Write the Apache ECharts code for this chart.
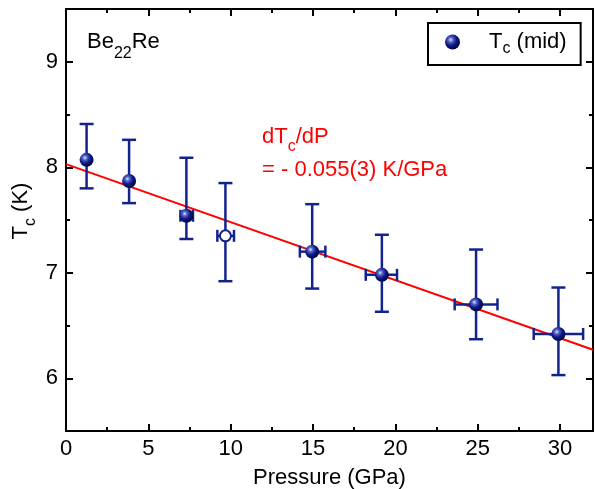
<!DOCTYPE html>
<html>
<head>
<meta charset="utf-8">
<script src="https://cdn.jsdelivr.net/npm/echarts@6/dist/echarts.min.js"></script>
<style>html,body{margin:0;padding:0;background:#fff}#c{width:595px;height:489px}</style>
</head>
<body>
<div id="c"></div>
<script>
// Data
var pressure = [1.25, 3.83, 7.31, 9.68, 14.95, 19.18, 24.9, 29.9];
var tcMid    = [8.07, 7.87, 7.54, 7.35, 7.20, 6.98, 6.70, 6.42];
var tcLow    = [7.80, 7.66, 7.32, 6.92, 6.85, 6.63, 6.37, 6.03];
var tcHigh   = [8.41, 8.26, 8.09, 7.85, 7.65, 7.36, 7.22, 6.86];
var pLow     = [1.25, 3.83, 6.95, 9.19, 14.2, 18.2, 23.6, 28.4];
var pHigh    = [1.25, 3.83, 7.71, 10.2, 15.75, 20.1, 26.2, 31.4];
var openPoint = [3];           // index of the open-symbol point
var fitX = [0, 32];
var fitY = [8.03, 6.27];
var xMajorTicks = [0, 5, 10, 15, 20, 25, 30];
var xMinorTicks = [2.5, 7.5, 12.5, 17.5, 22.5, 27.5];
var yMajorTicks = [6, 7, 8, 9];
var yMinorTicks = [6.5, 7.5, 8.5];

var NAVY = '#14238c';
var FONT = 'Liberation Sans, Arial, sans-serif';

var filled = [], open = [], err = [];
for (var i = 0; i < pressure.length; i++) {
  if (openPoint.indexOf(i) >= 0) open.push([pressure[i], tcMid[i]]);
  else filled.push([pressure[i], tcMid[i]]);
  err.push([pressure[i], tcMid[i], tcLow[i], tcHigh[i], pLow[i], pHigh[i]]);
}
var fit = fitX.map(function (x, k) { return [x, fitY[k]]; });

var sphere = {
  type: 'radial', x: 0.38, y: 0.35, r: 0.65,
  colorStops: [
    {offset: 0, color: '#dfe4ff'},
    {offset: 0.25, color: '#5563c4'},
    {offset: 0.6, color: '#0b1888'},
    {offset: 1, color: '#000640'}
  ]
};

function axisCommon(pos, ticks, len, showLine, labels) {
  return {
    type: 'value', position: pos, gridIndex: 0,
    splitLine: {show: false},
    axisLine: {show: showLine, onZero: false, lineStyle: {color: '#000', width: 2}},
    axisTick: {show: true, inside: true, length: len, customValues: ticks, lineStyle: {color: '#000', width: 2}},
    axisLabel: labels ? {show: true, customValues: ticks, color: '#000', fontSize: 22, fontFamily: FONT} : {show: false}
  };
}

var XMIN = 0, XMAX = 32;
var xa0 = axisCommon('bottom', xMajorTicks, 7, true, true);
xa0.min = XMIN; xa0.max = XMAX; xa0.axisLabel.margin = 7;
var xa1 = axisCommon('bottom', xMinorTicks, 4, false, false); xa1.min = XMIN; xa1.max = XMAX;
var xa2 = axisCommon('top', xMajorTicks, 7, true, false); xa2.min = XMIN; xa2.max = XMAX;
var xa3 = axisCommon('top', xMinorTicks, 4, false, false); xa3.min = XMIN; xa3.max = XMAX;

var YMIN = 5.5, YMAX = 9.5;
var ya0 = axisCommon('left', yMajorTicks, 7, true, true);
ya0.min = YMIN; ya0.max = YMAX; ya0.axisLabel.margin = 8;
var ya1 = axisCommon('left', yMinorTicks, 4, false, false); ya1.min = YMIN; ya1.max = YMAX;
var ya2 = axisCommon('right', yMajorTicks, 7, true, false); ya2.min = YMIN; ya2.max = YMAX;
var ya3 = axisCommon('right', yMinorTicks, 4, false, false); ya3.min = YMIN; ya3.max = YMAX;

function richStyle(col, subPad) {
  return {
    m: {fontSize: 22, fontFamily: FONT, fill: col},
    s: {fontSize: 16, fontFamily: FONT, fill: col, padding: [subPad, 0, 0, 0]}
  };
}

var chart = echarts.init(document.getElementById('c'), null, {renderer: 'canvas'});
chart.setOption({
  animation: false,
  backgroundColor: '#fff',
  grid: {left: 66, right: 2, top: 9, bottom: 58, containLabel: false, outerBoundsMode: 'none'},
  xAxis: [xa0, xa1, xa2, xa3],
  yAxis: [ya0, ya1, ya2, ya3],
  legend: {
    left: 428, top: 23,
    data: ['Tc (mid)'],
    icon: 'circle', itemWidth: 15, itemHeight: 15,
    borderColor: '#000', borderWidth: 2, borderRadius: 0,
    padding: [8, 14, 8, 17],
    formatter: function () { return '{m|T}{s|c}{m| (mid)}'; },
    textStyle: {color: '#000', fontFamily: FONT, padding: [0, 0, 0, 24], rich: {
      m: {fontSize: 22, fontFamily: FONT, color: '#000'},
      s: {fontSize: 16, fontFamily: FONT, color: '#000', padding: [14, 0, 0, 0]}
    }}
  },
  graphic: [
    {type: 'text', left: 87, top: 31, z: 10, style: {
      text: '{m|Be}{s|22}{m|Re}', fontFamily: FONT, rich: richStyle('#000', 24)
    }},
    {type: 'text', x: 21, y: 211, rotation: Math.PI / 2, z: 10, style: {
      text: '{m|T}{s|c}{m| (K)}', fontFamily: FONT, align: 'center', verticalAlign: 'middle',
      rich: richStyle('#000', 20)
    }},
    {type: 'text', x: 329.5, y: 478, z: 10, style: {
      text: 'Pressure (GPa)', fontSize: 22, fontFamily: FONT, fill: '#000',
      align: 'center', verticalAlign: 'middle'
    }},
    {type: 'text', left: 262, top: 126, z: 10, style: {
      text: '{m|dT}{s|c}{m|/dP}', fontFamily: FONT, rich: richStyle('#ff0000', 20)
    }},
    {type: 'text', left: 262, top: 159, z: 10, style: {
      text: '= - 0.055(3) K/GPa', fontSize: 22, fontFamily: FONT, fill: '#ff0000'
    }}
  ],
  series: [
    {
      type: 'line', data: fit, symbol: 'none', z: 2,
      lineStyle: {color: '#ff0000', width: 2}, silent: true
    },
    {
      type: 'custom', data: err, z: 3,
      renderItem: function (params, api) {
        var c = api.coord([api.value(0), api.value(1)]);
        var lo = api.coord([api.value(0), api.value(2)]);
        var hi = api.coord([api.value(0), api.value(3)]);
        var xl = api.coord([api.value(4), api.value(1)]);
        var xh = api.coord([api.value(5), api.value(1)]);
        var st = {stroke: NAVY, lineWidth: 2.5, fill: null};
        var cw = 7, ch = 6;
        var kids = [
          {type: 'line', shape: {x1: c[0], y1: lo[1], x2: c[0], y2: hi[1]}, style: st},
          {type: 'line', shape: {x1: c[0] - cw, y1: lo[1], x2: c[0] + cw, y2: lo[1]}, style: st},
          {type: 'line', shape: {x1: c[0] - cw, y1: hi[1], x2: c[0] + cw, y2: hi[1]}, style: st}
        ];
        if (xh[0] - xl[0] > 1) {
          kids.push({type: 'line', shape: {x1: xl[0], y1: c[1], x2: xh[0], y2: c[1]}, style: st});
          kids.push({type: 'line', shape: {x1: xl[0], y1: c[1] - ch, x2: xl[0], y2: c[1] + ch}, style: st});
          kids.push({type: 'line', shape: {x1: xh[0], y1: c[1] - ch, x2: xh[0], y2: c[1] + ch}, style: st});
        }
        return {type: 'group', children: kids};
      }
    },
    {
      name: 'Tc (mid)', type: 'scatter', data: filled, z: 5,
      symbol: 'circle', symbolSize: 14,
      itemStyle: {color: sphere, opacity: 1}
    },
    {
      name: 'open', type: 'scatter', data: open, z: 5,
      symbol: 'circle', symbolSize: 11,
      itemStyle: {color: '#fff', borderColor: NAVY, borderWidth: 2, opacity: 1}
    }
  ]
});
</script>
</body>
</html>
